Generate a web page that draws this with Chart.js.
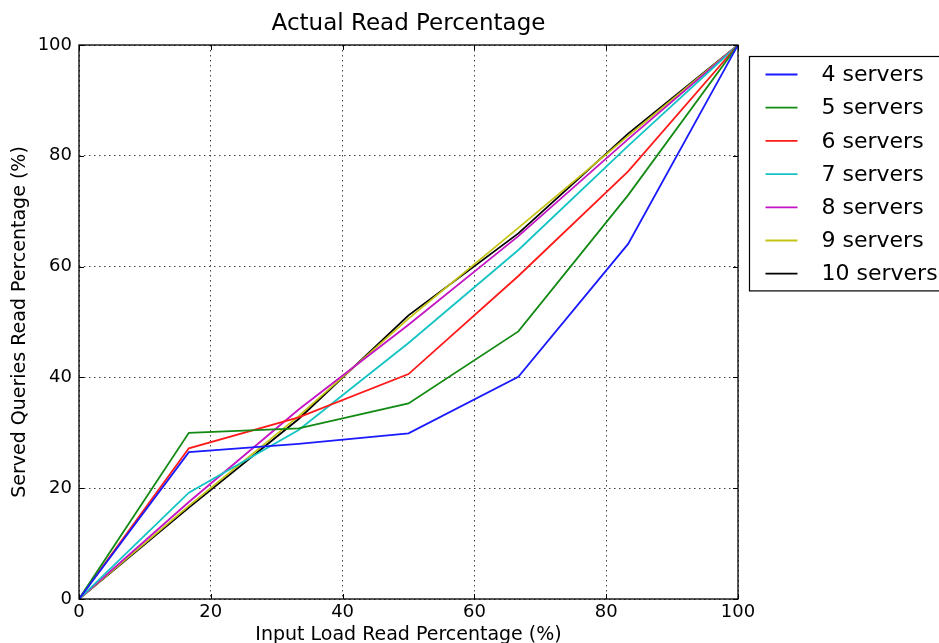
<!DOCTYPE html>
<html>
<head>
<meta charset="utf-8">
<script src="https://cdn.jsdelivr.net/npm/chart.js@4/dist/chart.umd.min.js"></script>
<style>
  html, body { margin: 0; padding: 0; background: #fff; }
  #wrap { width: 939px; height: 643px; }
</style>
</head>
<body>
<div id="wrap"><canvas id="line-chart" width="939" height="643"></canvas></div>
<script>
// input load read percentage (x)
var inputLoad = [0, 16.67, 33.33, 50, 66.67, 83.33, 100];

// served read percentage, one list per cluster size
var servers4  = [0, 26.5, 28.0, 29.9, 40.1, 64.1, 100];
var servers5  = [0, 30.0, 30.8, 35.3, 48.3, 72.9, 100];
var servers6  = [0, 27.2, 32.8, 40.6, 58.3, 77.2, 100];
var servers7  = [0, 19.2, 30.5, 46.2, 63.0, 81.8, 100];
var servers8  = [0, 17.5, 34.2, 49.5, 65.5, 83.0, 100];
var servers9  = [0, 16.8, 33.0, 50.6, 67.0, 83.6, 100];
var servers10 = [0, 16.5, 32.5, 51.2, 66.0, 84.0, 100];

var seriesNames = ["4 servers", "5 servers", "6 servers", "7 servers", "8 servers", "9 servers", "10 servers"];
var seriesValues = [servers4, servers5, servers6, servers7, servers8, servers9, servers10];
var seriesColors = ["#1a1aff", "#138a13", "#ff1a1a", "#14c4c4", "#c414c4", "#c4c414", "#000000"];

var tickValues = [0, 20, 40, 60, 80, 100];

var FONT = "'DejaVu Sans', sans-serif";

function toPoints(vals) {
  return vals.map(function (v, i) { return { x: inputLoad[i], y: v }; });
}

var datasets = seriesNames.map(function (name, i) {
  return {
    label: name,
    data: toPoints(seriesValues[i]),
    borderColor: seriesColors[i],
    backgroundColor: seriesColors[i],
    borderWidth: 1.8,
    pointRadius: 0,
    tension: 0,
    fill: false
  };
});

// matplotlib-like frame, inward ticks and the legend box outside the axes
var framePlugin = {
  id: "frame",
  afterDatasetsDraw: function (chart) {
    var ctx = chart.ctx;
    var a = chart.chartArea;
    var xs = chart.scales.x, ys = chart.scales.y;
    ctx.save();
    ctx.strokeStyle = "#000";
    ctx.lineWidth = 1.3;
    ctx.setLineDash([]);
    ctx.strokeRect(a.left, a.top, a.right - a.left, a.bottom - a.top);

    ctx.lineWidth = 1;
    ctx.beginPath();
    tickValues.forEach(function (t) {
      var px = Math.round(xs.getPixelForValue(t)) + 0.5;
      ctx.moveTo(px, a.bottom); ctx.lineTo(px, a.bottom - 5);
      ctx.moveTo(px, a.top); ctx.lineTo(px, a.top + 5);
      var py = Math.round(ys.getPixelForValue(t)) + 0.5;
      ctx.moveTo(a.left, py); ctx.lineTo(a.left + 5, py);
      ctx.moveTo(a.right, py); ctx.lineTo(a.right - 5, py);
    });
    ctx.stroke();

    // legend
    var lx = a.right + 11.5, ly = a.top + 11.5;
    var rowH = 33.2;
    ctx.lineWidth = 1.2;
    ctx.strokeStyle = "#000";
    ctx.fillStyle = "#fff";
    ctx.fillRect(lx, ly, 260, rowH * seriesNames.length + 2);
    ctx.strokeRect(lx, ly, 260, rowH * seriesNames.length + 2);
    ctx.font = "22px " + FONT;
    ctx.textBaseline = "middle";
    ctx.textAlign = "left";
    seriesNames.forEach(function (name, i) {
      var cy = ly + 18 + rowH * i;
      ctx.strokeStyle = seriesColors[i];
      ctx.lineWidth = 1.8;
      ctx.beginPath();
      ctx.moveTo(lx + 16, cy);
      ctx.lineTo(lx + 48, cy);
      ctx.stroke();
      ctx.fillStyle = "#000";
      ctx.fillText(name, lx + 72, cy + 1);
    });
    ctx.restore();
  }
};

var config = {
  type: "line",
  data: { datasets: datasets },
  options: {
    responsive: false,
    animation: false,
    layout: { padding: { left: 0, right: 201, top: 0, bottom: 0 } },
    plugins: {
      legend: { display: false },
      tooltip: { enabled: false },
      title: {
        display: true,
        text: "Actual Read Percentage",
        fullSize: false,
        color: "#000",
        font: { family: FONT, size: 23, weight: "normal", lineHeight: 1.2 },
        padding: { top: 10, bottom: 7.4 }
      }
    },
    scales: {
      x: {
        type: "linear",
        min: 0,
        max: 100,
        afterFit: function (scale) { scale.height = 44; },
        afterBuildTicks: function (scale) {
          scale.ticks = tickValues.map(function (v) { return { value: v }; });
        },
        ticks: { color: "#000", padding: 3, maxRotation: 0, font: { family: FONT, size: 18 } },
        grid: { color: "#444", lineWidth: 1, drawTicks: false },
        border: { display: false, dash: [1.5, 3.5] },
        title: {
          display: true,
          text: "Input Load Read Percentage (%)",
          color: "#000",
          font: { family: FONT, size: 19, lineHeight: 1.2 },
          padding: { top: 0, bottom: -3 }
        }
      },
      y: {
        type: "linear",
        min: 0,
        max: 100,
        afterFit: function (scale) { scale.width = 79; },
        afterBuildTicks: function (scale) {
          scale.ticks = tickValues.map(function (v) { return { value: v }; });
        },
        ticks: { color: "#000", padding: 7, font: { family: FONT, size: 18 } },
        grid: { color: "#444", lineWidth: 1, drawTicks: false },
        border: { display: false, dash: [1.5, 3.5] },
        title: {
          display: true,
          text: "Served Queries Read Percentage (%)",
          color: "#000",
          font: { family: FONT, size: 19, lineHeight: 1.2 },
          padding: { top: 9, bottom: 0 }
        }
      }
    }
  },
  plugins: [framePlugin]
};

var ctx = document.getElementById("line-chart").getContext("2d");
window.myLine = new Chart(ctx, config);
</script>
</body>
</html>
